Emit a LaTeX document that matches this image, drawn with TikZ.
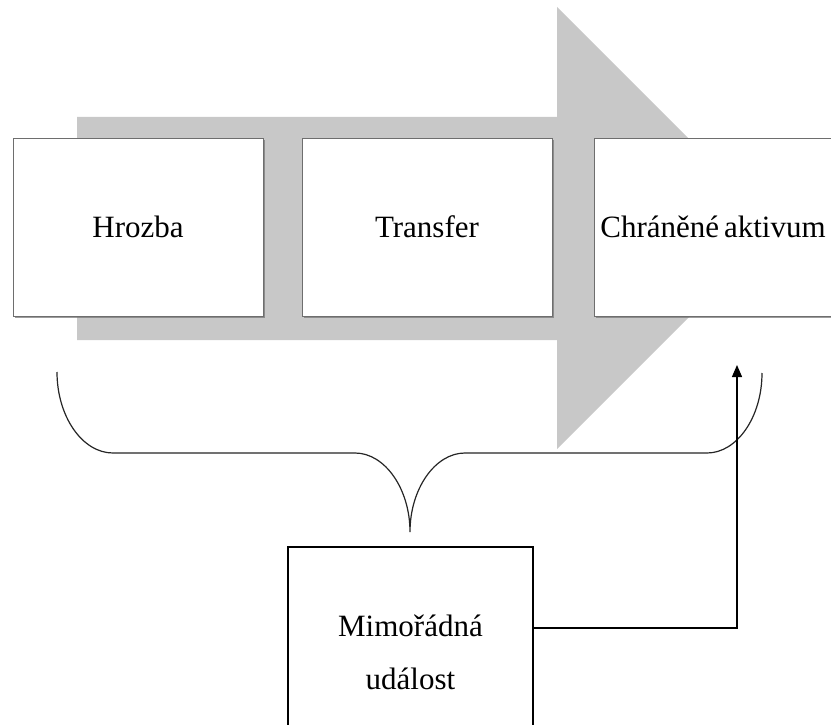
\documentclass[tikz,border=0pt]{standalone}
\usepackage{fontspec}
\setmainfont{Liberation Serif}
\usetikzlibrary{arrows.meta,shadows}
\definecolor{flowgray}{RGB}{200,200,200}
\definecolor{edgegray}{RGB}{110,110,110}
\tikzset{
  stagebox/.style={draw=edgegray, line width=1pt, fill=white,
    minimum width=250pt, minimum height=178pt, inner sep=0pt,
    font=\fontsize{31}{37}\selectfont,
    drop shadow={shadow xshift=2pt, shadow yshift=-2pt, fill=black!55, opacity=0.7}},
  eventbox/.style={draw=black, line width=1.3pt, fill=white,
    minimum width=245pt, minimum height=210pt, inner sep=0pt, align=center,
    font=\fontsize{31}{53}\selectfont},
  bracket/.style={draw=black!85, line width=1.2pt},
  link/.style={draw=black, line width=1.3pt, -{Triangle[width=10pt,length=12pt]}}
}
\begin{document}
\begin{tikzpicture}[x=1pt,y=-1pt]
  \useasboundingbox (0,0) rectangle (831,725);
  \clip (0,0) rectangle (831,725);
  \fill[white] (0,0) rectangle (831,725);

  % broad grey process arrow behind the stages
  \fill[flowgray] (77,117) -- (557,117) -- (557,7) -- (778,228)
    -- (557,449) -- (557,340) -- (77,340) -- cycle;

  % stages
  \node[stagebox] (threat)   at (138,227) {Hrozba};
  \node[stagebox] (transfer) at (427,227) {Transfer};
  \node[stagebox] (asset)    at (719,227) {\kern-12pt Chráněné\hspace{0.16em}aktivum};

  % extraordinary event
  \node[eventbox] (event) at (410.5,652) {Mimořádná\\událost};

  % curly bracket spanning the chain
  \coordinate (bl) at (57,372);
  \coordinate (bm) at (410,532);
  \coordinate (br) at (762,373);
  \draw[bracket] (bl) .. controls (57,416) and (82,453) .. (113,453)
    -- (355,453) .. controls (385,453) and (410,489) .. (bm)
    .. controls (410,489) and (435,453) .. (465,453)
    -- (707,453) .. controls (737,453) and (762,417) .. (br);

  % event acts on the protected asset
  \coordinate (turn) at (737,628);
  \coordinate (hit) at (737,365);
  \draw[link] (event.east |- turn) -- (turn) -- (hit);
\end{tikzpicture}
\end{document}
